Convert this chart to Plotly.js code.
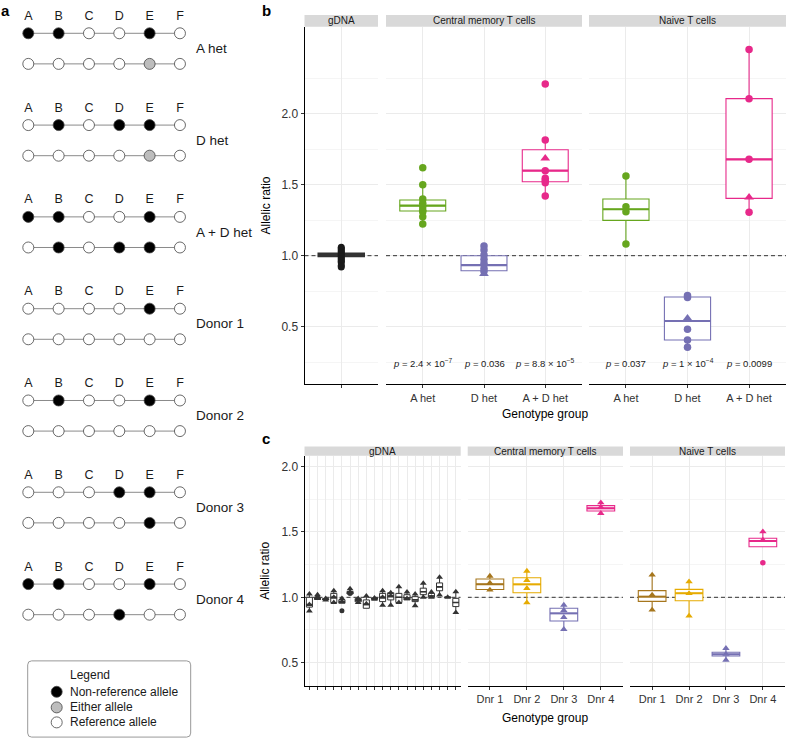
<!DOCTYPE html>
<html><head><meta charset="utf-8">
<script src="https://cdn.plot.ly/plotly-3.0.1.min.js"></script>
<style>html,body{margin:0;padding:0;background:#fff}</style>
</head><body><div id="chart" style="width:786px;height:738px"></div>
<script>
// ---------------- Panel a data ----------------
const loci = ['A', 'B', 'C', 'D', 'E', 'F'];
const hapGroups = ['A het', 'D het', 'A + D het', 'Donor 1', 'Donor 2', 'Donor 3', 'Donor 4'];
// 1 = non-reference, 2 = either, 0 = reference
const hapTop    = ['110010', '010110', '110010', '000010', '010010', '000110', '110010'];
const hapBottom = ['000020', '000020', '010110', '000000', '000000', '000010', '000100'];
const alleleNames = ['Non-reference allele', 'Either allele', 'Reference allele'];

// ---------------- Panel b data ----------------
const bFacets = ['gDNA', 'Central memory T cells', 'Naive T cells'];
const bGroups = ['A het', 'D het', 'A + D het'];
// gDNA: q1, median, q3, lower, upper
const bGdnaBox = [0.994, 1.005, 1.016, 0.92, 1.06];
const bGdnaPts = [1.06, 1.05, 1.04, 1.03, 1.02, 1.01, 1.0, 0.99, 0.98, 0.97, 0.96, 0.95, 0.93, 0.92];
// Central memory
const bCmQ1  = [1.315, 0.894, 1.521];
const bCmMed = [1.352, 0.934, 1.599];
const bCmQ3  = [1.392, 1.000, 1.746];
const bCmLo  = [1.223, 0.872, 1.420];
const bCmHi  = [1.500, 1.068, 1.815];
const bCmCircles = [[1.62, 1.50, 1.40, 1.37, 1.345, 1.32, 1.31, 1.275, 1.223],
                    [1.068, 1.04, 1.005, 0.975, 0.946, 0.911, 0.89],
                    [2.209, 1.815, 1.599, 1.545, 1.53, 1.514, 1.42]];
const bCmTriangles = [[], [0.872], [1.686]];
// Naive
const bNvQ1  = [1.249, 0.406, 1.404];
const bNvMed = [1.327, 0.540, 1.679];
const bNvQ3  = [1.399, 0.709, 2.106];
const bNvLo  = [1.082, 0.355, 1.306];
const bNvHi  = [1.561, 0.720, 2.453];
const bNvCircles = [[1.561, 1.345, 1.31, 1.082],
                    [0.72, 0.706, 0.482, 0.406, 0.355],
                    [2.453, 2.106, 1.679, 1.306]];
const bNvTriangles = [[], [0.559], [1.411]];
const bPvalCm = ['2.4 × 10<sup>−7</sup>', '0.036', '8.8 × 10<sup>−5</sup>'];
const bPvalNv = ['0.037', '1 × 10<sup>−4</sup>', '0.0099'];
const bYTicks = [0.5, 1.0, 1.5, 2.0];

// ---------------- Panel c data ----------------
const cGdnaQ1  = [0.925, 0.985, 0.980, 0.960, 0.955, 1.025, 0.965, 0.916, 0.985, 0.967, 0.980, 0.960, 0.980, 0.967, 1.020, 1.000, 1.050, 0.998, 0.929];
const cGdnaMed = [0.945, 0.990, 0.985, 1.000, 0.965, 1.035, 0.975, 0.946, 0.990, 1.000, 1.010, 1.000, 0.995, 0.980, 1.043, 1.010, 1.080, 1.000, 0.960];
const cGdnaQ3  = [1.000, 0.995, 0.990, 1.030, 0.980, 1.045, 0.990, 0.980, 0.995, 1.030, 1.035, 1.030, 1.020, 1.005, 1.070, 1.030, 1.110, 1.002, 0.992];
const cGdnaLo  = [0.895, 0.985, 0.980, 0.960, 0.955, 1.025, 0.960, 0.916, 0.985, 0.940, 0.940, 0.960, 0.980, 0.936, 1.000, 1.000, 1.018, 0.998, 0.883];
const cGdnaHi  = [1.025, 1.020, 0.990, 1.050, 0.990, 1.065, 0.990, 1.010, 0.995, 1.050, 1.035, 1.080, 1.040, 1.026, 1.107, 1.040, 1.153, 1.002, 1.043];
const cGdnaTri = [[1.025, 0.945, 0.895], [1.02, 0.99], [0.99, 0.98], [1.05, 1.0, 0.96], [0.99, 0.965],
                  [1.065, 1.04], [0.99, 0.96], [1.01, 0.95], [0.995, 0.985], [1.05, 1.0, 0.94],
                  [1.035, 1.01, 0.94], [1.08, 0.96], [1.04, 0.99], [1.026, 0.936], [1.107, 1.0],
                  [1.04, 1.0], [1.153, 1.018], [1.0], [1.043, 0.883]];
const cGdnaCirc = [[], [1.0], [], [], [0.898], [1.03], [], [], [], [], [], [], [], [], [], [], [], [], []];
const cDonors = ['Dnr 1', 'Dnr 2', 'Dnr 3', 'Dnr 4'];
const cCmQ1  = [1.060, 1.035, 0.819, 1.661];
const cCmMed = [1.100, 1.099, 0.877, 1.681];
const cCmQ3  = [1.140, 1.150, 0.916, 1.702];
const cCmLo  = [1.050, 0.959, 0.755, 1.643];
const cCmHi  = [1.163, 1.201, 0.941, 1.724];
const cCmTri = [[1.163, 1.11, 1.056], [1.201, 1.13, 1.069, 0.959], [0.941, 0.90, 0.847, 0.755], [1.724, 1.69, 1.643]];
const cNvQ1  = [0.969, 0.974, 0.551, 1.387];
const cNvMed = [1.005, 1.031, 0.564, 1.431];
const cNvQ3  = [1.051, 1.061, 0.579, 1.452];
const cNvLo  = [0.903, 0.857, 0.520, 1.387];
const cNvHi  = [1.171, 1.120, 0.610, 1.502];
const cNvTri = [[1.171, 1.018, 0.903], [1.12, 1.03, 0.857], [0.61, 0.565, 0.52], [1.502, 1.439]];
const cNvCirc = [[], [], [], [1.265]];
const cYTicks = [0.5, 1.0, 1.5, 2.0];

// ---------------- styles ----------------
const groupColors = ['#66A61E', '#7570B3', '#E7298A'];
const donorColors = ['#A6761D', '#E6AB02', '#7570B3', '#E7298A'];
const gdnaColor = '#333333';
const FONT = 'Liberation Sans, Arial, Helvetica, sans-serif';
const W = 786, H = 738;
const PX = v => v / W, PY = v => 1 - v / H;

const traces = [], shapes = [], annotations = [];

// ---------------- Panel a ----------------
const gUnit = 3, rowGap = 1, letterOff = -0.54;
const alleleColor = {'1': '#000000', '2': '#BDBDBD', '0': '#FFFFFF'};
hapGroups.forEach((name, g) => {
  [hapTop[g], hapBottom[g]].forEach((code, r) => {
    traces.push({type: 'scatter', mode: 'lines+markers', xaxis: 'x', yaxis: 'y',
      x: loci.map((_, i) => i), y: loci.map(() => g * gUnit + r * rowGap),
      line: {color: '#8a8a8a', width: 1},
      marker: {size: 11, color: code.split('').map(c => alleleColor[c]), line: {color: '#444', width: 0.8}},
      hoverinfo: 'skip', showlegend: false});
  });
  traces.push({type: 'scatter', mode: 'text', xaxis: 'x', yaxis: 'y',
    x: loci.map((_, i) => i), y: loci.map(() => g * gUnit + letterOff), text: loci,
    textfont: {size: 12.5, color: '#1a1a1a', family: FONT}, hoverinfo: 'skip', showlegend: false});
  annotations.push({xref: 'x', yref: 'y', x: 5.47, y: g * gUnit + 0.5, text: name, xanchor: 'left', yanchor: 'middle',
    showarrow: false, font: {size: 13.5, color: '#1a1a1a'}});
});
// legend box of panel a
(function () {
  const x0 = -0.02, x1 = 5.354, y0 = 20.51, y1 = 23.0, rx = 0.13, ry = 0.13;
  shapes.push({type: 'path', xref: 'x', yref: 'y', line: {color: '#999', width: 1}, fillcolor: 'rgba(0,0,0,0)',
    path: `M${x0 + rx},${y0} L${x1 - rx},${y0} Q${x1},${y0} ${x1},${y0 + ry} L${x1},${y1 - ry} Q${x1},${y1} ${x1 - rx},${y1} ` +
          `L${x0 + rx},${y1} Q${x0},${y1} ${x0},${y1 - ry} L${x0},${y0 + ry} Q${x0},${y0} ${x0 + rx},${y0} Z`});
  annotations.push({xref: 'x', yref: 'y', x: 1.3, y: 20.97, text: 'Legend', xanchor: 'left', yanchor: 'middle',
    showarrow: false, font: {size: 12, color: '#1a1a1a'}});
  const ly = [21.52, 22.03, 22.52];
  traces.push({type: 'scatter', mode: 'markers', xaxis: 'x', yaxis: 'y', x: ly.map(() => 0.936), y: ly,
    marker: {size: 11, color: ['#000000', '#BDBDBD', '#FFFFFF'], line: {color: '#444', width: 0.8}},
    hoverinfo: 'skip', showlegend: false});
  alleleNames.forEach((t, i) => annotations.push({xref: 'x', yref: 'y', x: 1.3, y: ly[i], text: t,
    xanchor: 'left', yanchor: 'middle', showarrow: false, font: {size: 12, color: '#1a1a1a'}}));
})();

// ---------------- helpers ----------------
function addBox(xa, ya, pos, q1, med, q3, lo, hi, color, w, lw, mw) {
  traces.push({type: 'box', xaxis: xa, yaxis: ya, x: [pos], q1: [q1], median: [med], q3: [q3],
    lowerfence: [lo], upperfence: [hi], width: w, whiskerwidth: 0, boxpoints: false,
    line: {color: color, width: lw}, fillcolor: 'rgba(255,255,255,1)', hoverinfo: 'skip', showlegend: false});
  traces.push({type: 'scatter', mode: 'lines', xaxis: xa, yaxis: ya, x: [pos - w / 2, pos + w / 2], y: [med, med],
    line: {color: color, width: mw}, hoverinfo: 'skip', showlegend: false});
}
function addPts(xa, ya, pos, vals, symbol, color, size) {
  if (!vals.length) return;
  traces.push({type: 'scatter', mode: 'markers', xaxis: xa, yaxis: ya, x: vals.map(() => pos), y: vals,
    marker: {symbol: symbol, color: color, size: size, line: {width: 0}}, hoverinfo: 'skip', showlegend: false});
}

// ---------------- Panel b ----------------
addBox('x2', 'y2', 1, bGdnaBox[0], bGdnaBox[1], bGdnaBox[2], bGdnaBox[3], bGdnaBox[4], gdnaColor, 0.75, 1.6, 2.4);
addPts('x2', 'y2', 1, bGdnaPts, 'circle', '#1a1a1a', 7);
bGroups.forEach((g, i) => {
  addBox('x3', 'y2', i + 1, bCmQ1[i], bCmMed[i], bCmQ3[i], bCmLo[i], bCmHi[i], groupColors[i], 0.75, 1.1, 2.2);
  addPts('x3', 'y2', i + 1, bCmCircles[i], 'circle', groupColors[i], 7.5);
  addPts('x3', 'y2', i + 1, bCmTriangles[i], 'triangle-up', groupColors[i], 8.5);
  addBox('x4', 'y2', i + 1, bNvQ1[i], bNvMed[i], bNvQ3[i], bNvLo[i], bNvHi[i], groupColors[i], 0.75, 1.1, 2.2);
  addPts('x4', 'y2', i + 1, bNvCircles[i], 'circle', groupColors[i], 7.5);
  addPts('x4', 'y2', i + 1, bNvTriangles[i], 'triangle-up', groupColors[i], 8.5);
  annotations.push({xref: 'x3', yref: 'y2', x: i + 1, y: 0.244, text: '<i>p</i> = ' + bPvalCm[i], showarrow: false,
    font: {size: 9.5, color: '#1a1a1a'}, yanchor: 'middle'});
  annotations.push({xref: 'x4', yref: 'y2', x: i + 1, y: 0.244, text: '<i>p</i> = ' + bPvalNv[i], showarrow: false,
    font: {size: 9.5, color: '#1a1a1a'}, yanchor: 'middle'});
});

// ---------------- Panel c ----------------
cGdnaQ1.forEach((q, i) => {
  addBox('x5', 'y3', i + 1, cGdnaQ1[i], cGdnaMed[i], cGdnaQ3[i], cGdnaLo[i], cGdnaHi[i], gdnaColor, 0.75, 1, 1.6);
  addPts('x5', 'y3', i + 1, cGdnaTri[i], 'triangle-up', gdnaColor, 6);
  addPts('x5', 'y3', i + 1, cGdnaCirc[i], 'circle', gdnaColor, 5);
});
cDonors.forEach((d, i) => {
  addBox('x6', 'y3', i + 1, cCmQ1[i], cCmMed[i], cCmQ3[i], cCmLo[i], cCmHi[i], donorColors[i], 0.75, 1.1, 2);
  addPts('x6', 'y3', i + 1, cCmTri[i], 'triangle-up', donorColors[i], 6.5);
  addBox('x7', 'y3', i + 1, cNvQ1[i], cNvMed[i], cNvQ3[i], cNvLo[i], cNvHi[i], donorColors[i], 0.75, 1.1, 2);
  addPts('x7', 'y3', i + 1, cNvTri[i], 'triangle-up', donorColors[i], 6.5);
  addPts('x7', 'y3', i + 1, cNvCirc[i], 'circle', donorColors[i], 5.5);
});

// ---------------- axes ----------------
const gridC = '#EBEBEB';
const xBase = {showline: true, linecolor: '#000', linewidth: 1, ticks: 'outside', ticklen: 3, tickcolor: '#333', tickwidth: 1,
  showgrid: true, gridcolor: gridC, gridwidth: 1, zeroline: false, tickmode: 'array',
  tickfont: {size: 11, color: '#333', family: FONT}, fixedrange: true};
const yBase = Object.assign({}, xBase, {tickfont: {size: 12, color: '#333', family: FONT}});
const minorGrid = vals => ({tickmode: 'array', tickvals: vals, showgrid: true, gridcolor: '#F1F1F1', gridwidth: 0.7, ticks: ''});

const bTop = 26.7, bBot = 384.3, cTop = 455.7, cBot = 686;
const bX = [[304.5, 378], [386, 582], [589, 786]];
const cX = [[304.5, 460.7], [467.7, 623], [630, 785]];

const layout = {
  width: W, height: H, margin: {l: 0, r: 0, t: 0, b: 0}, autosize: false,
  paper_bgcolor: '#fff', plot_bgcolor: '#fff', showlegend: false, boxmode: 'overlay',
  font: {family: FONT, color: '#1a1a1a'},
  xaxis: {domain: [0, PX(240)], range: [-0.933, 6.98], visible: false, fixedrange: true},
  yaxis: {domain: [0, 1], range: [23.03, -1.088], visible: false, fixedrange: true},
  xaxis2: Object.assign({}, xBase, {domain: [PX(bX[0][0]), PX(bX[0][1])], range: [0.4, 1.6], anchor: 'y2', tickvals: [1], ticktext: ['']}),
  xaxis3: Object.assign({}, xBase, {domain: [PX(bX[1][0]), PX(bX[1][1])], range: [0.4, 3.6], anchor: 'y2', tickvals: [1, 2, 3], ticktext: bGroups}),
  xaxis4: Object.assign({}, xBase, {domain: [PX(bX[2][0]), PX(bX[2][1])], range: [0.4, 3.6], anchor: 'y2', tickvals: [1, 2, 3], ticktext: bGroups}),
  yaxis2: Object.assign({}, yBase, {domain: [PY(bBot), PY(bTop)], range: [0.094, 2.613], anchor: 'x2',
    tickvals: bYTicks, ticktext: bYTicks.map(v => v.toFixed(1)), minor: minorGrid([0.25, 0.75, 1.25, 1.75, 2.25])}),
  xaxis5: Object.assign({}, xBase, {domain: [PX(cX[0][0]), PX(cX[0][1])], range: [0.4, 19.6], anchor: 'y3',
    tickvals: cGdnaQ1.map((_, i) => i + 1), ticktext: cGdnaQ1.map(() => '')}),
  xaxis6: Object.assign({}, xBase, {domain: [PX(cX[1][0]), PX(cX[1][1])], range: [0.4, 4.6], anchor: 'y3', tickvals: [1, 2, 3, 4], ticktext: cDonors}),
  xaxis7: Object.assign({}, xBase, {domain: [PX(cX[2][0]), PX(cX[2][1])], range: [0.4, 4.6], anchor: 'y3', tickvals: [1, 2, 3, 4], ticktext: cDonors}),
  yaxis3: Object.assign({}, yBase, {domain: [PY(cBot), PY(cTop)], range: [0.321, 2.084], anchor: 'x5',
    tickvals: cYTicks, ticktext: cYTicks.map(v => v.toFixed(1)), minor: minorGrid([0.75, 1.25, 1.75])}),
  shapes: shapes, annotations: annotations
};

// dashed reference lines at 1.0
[['x2', 'y2', [0.4, 1.6]], ['x3', 'y2', [0.4, 3.6]], ['x4', 'y2', [0.4, 3.6]],
 ['x5', 'y3', [0.4, 19.6]], ['x6', 'y3', [0.4, 4.6]], ['x7', 'y3', [0.4, 4.6]]].forEach(([xa, ya, r]) => {
  shapes.push({type: 'line', xref: xa, yref: ya, x0: r[0], x1: r[1], y0: 1, y1: 1, layer: 'between',
    line: {color: '#333', width: 1, dash: '4px,3px'}});
});

// strips
function strip(xr, top, bot, label) {
  shapes.push({type: 'rect', xref: 'paper', yref: 'paper', x0: PX(xr[0]), x1: PX(xr[1]), y0: PY(bot), y1: PY(top),
    fillcolor: '#D9D9D9', line: {width: 0}, layer: 'below'});
  annotations.push({xref: 'paper', yref: 'paper', x: PX((xr[0] + xr[1]) / 2), y: PY((top + bot) / 2), text: label,
    showarrow: false, xanchor: 'center', yanchor: 'middle', font: {size: 10, color: '#1a1a1a'}});
}
bFacets.forEach((f, i) => strip(bX[i], 15, bTop, f));
bFacets.forEach((f, i) => strip(cX[i], 446.5, cTop, f));

// titles and panel letters
function ann(x, y, text, opts) {
  annotations.push(Object.assign({xref: 'paper', yref: 'paper', x: PX(x), y: PY(y), text: text, showarrow: false,
    xanchor: 'center', yanchor: 'middle', font: {size: 12, color: '#000'}}, opts || {}));
}
ann(265, (bTop + bBot) / 2, 'Allelic ratio', {textangle: -90});
ann(265, (cTop + cBot) / 2, 'Allelic ratio', {textangle: -90});
ann(545, 414, 'Genotype group');
ann(545, 718, 'Genotype group');
ann(5, 0, '<b>a</b>', {yanchor: 'top', font: {size: 15, color: '#000'}});
ann(266, 0, '<b>b</b>', {yanchor: 'top', font: {size: 15, color: '#000'}});
ann(266, 428, '<b>c</b>', {yanchor: 'top', font: {size: 15, color: '#000'}});

Plotly.newPlot('chart', traces, layout, {displayModeBar: false, staticPlot: true});
</script>
</body></html>
